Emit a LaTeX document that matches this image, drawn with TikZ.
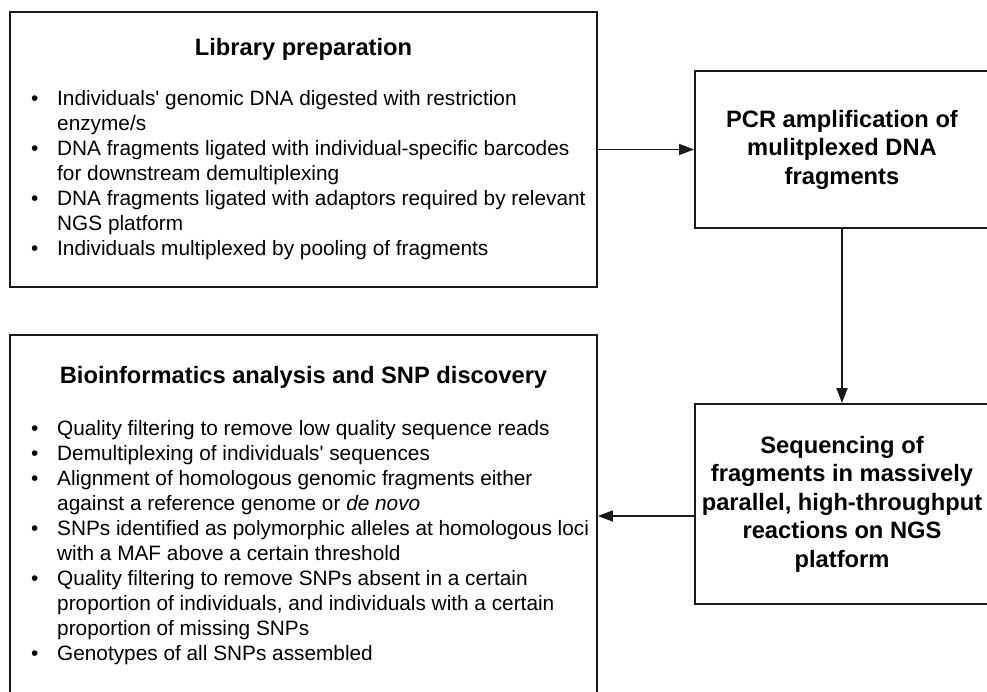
\documentclass[tikz,border=0pt]{standalone}
\usepackage{fontspec}
\setmainfont{Liberation Sans}
\usetikzlibrary{arrows.meta,calc}
\begin{document}
\begin{tikzpicture}[x=1pt,y=-1pt,
  box/.style={draw=black!90, line width=1.9pt, rectangle, inner sep=0pt},
  headtext/.style={font=\fontsize{23.7}{28.5}\selectfont\bfseries, inner sep=0pt},
  bodytext/.style={font=\fontsize{20.8}{25}\selectfont, inner sep=0pt, anchor=base west},
  conn/.style={line width=1.7pt, draw=black!90, -{Triangle[length=15pt,width=11pt]}}
]
\useasboundingbox (0,0) rectangle (987,691);
\clip (0,0) rectangle (987,691);
\fill[white] (0,0) rectangle (987,691);

% Library preparation box
\node[box, minimum width=587pt, minimum height=275pt] (lib) at (303.5,149.5) {};
\node[headtext, anchor=base] (libt) at (303.5,55.5) {Library preparation};
\node[bodytext] (libl) at (31,105) {\begin{tabular}[t]{@{}p{26pt}@{}l@{}}
\textbullet & Individuals\textquotesingle{} genomic DNA digested with restriction\\
 & enzyme/s\\
\textbullet & DNA fragments ligated with individual-specific barcodes\\
 & for downstream demultiplexing\\
\textbullet & DNA fragments ligated with adaptors required by relevant\\
 & NGS platform\\
\textbullet & Individuals multiplexed by pooling of fragments
\end{tabular}};

% PCR box
\node[box, minimum width=294pt, minimum height=157pt, headtext, align=center] (pcr) at (842,149.5)
  {PCR amplification of\\mulitplexed DNA\\fragments};

% Sequencing box
\node[box, minimum width=294pt, minimum height=200pt, headtext, align=center] (seq) at (842,504)
  {Sequencing of\\fragments in massively\\parallel, high-throughput\\reactions on NGS\\platform};

% Bioinformatics box (continues past bottom edge)
\node[box, minimum width=587pt, minimum height=380pt] (bio) at (303.5,525) {};
\node[headtext, anchor=base] (biot) at (303.5,383.5) {Bioinformatics analysis and SNP discovery};
\node[bodytext] (biol) at (31,435) {\begin{tabular}[t]{@{}p{26pt}@{}l@{}}
\textbullet & Quality filtering to remove low quality sequence reads\\
\textbullet & Demultiplexing of individuals\textquotesingle{} sequences\\
\textbullet & Alignment of homologous genomic fragments either\\
 & against a reference genome or \textit{de novo}\\
\textbullet & SNPs identified as polymorphic alleles at homologous loci\\
 & with a MAF above a certain threshold\\
\textbullet & Quality filtering to remove SNPs absent in a certain\\
 & proportion of individuals, and individuals with a certain\\
 & proportion of missing SNPs\\
\textbullet & Genotypes of all SNPs assembled
\end{tabular}};

% connectors
\draw[conn] (lib.east) -- (pcr.west);
\draw[conn] (pcr.south) -- (seq.north);
\coordinate (seqout) at ($(seq.west)+(0,12)$);
\draw[conn] (seqout) -- (seqout -| bio.east);
\end{tikzpicture}
\end{document}
